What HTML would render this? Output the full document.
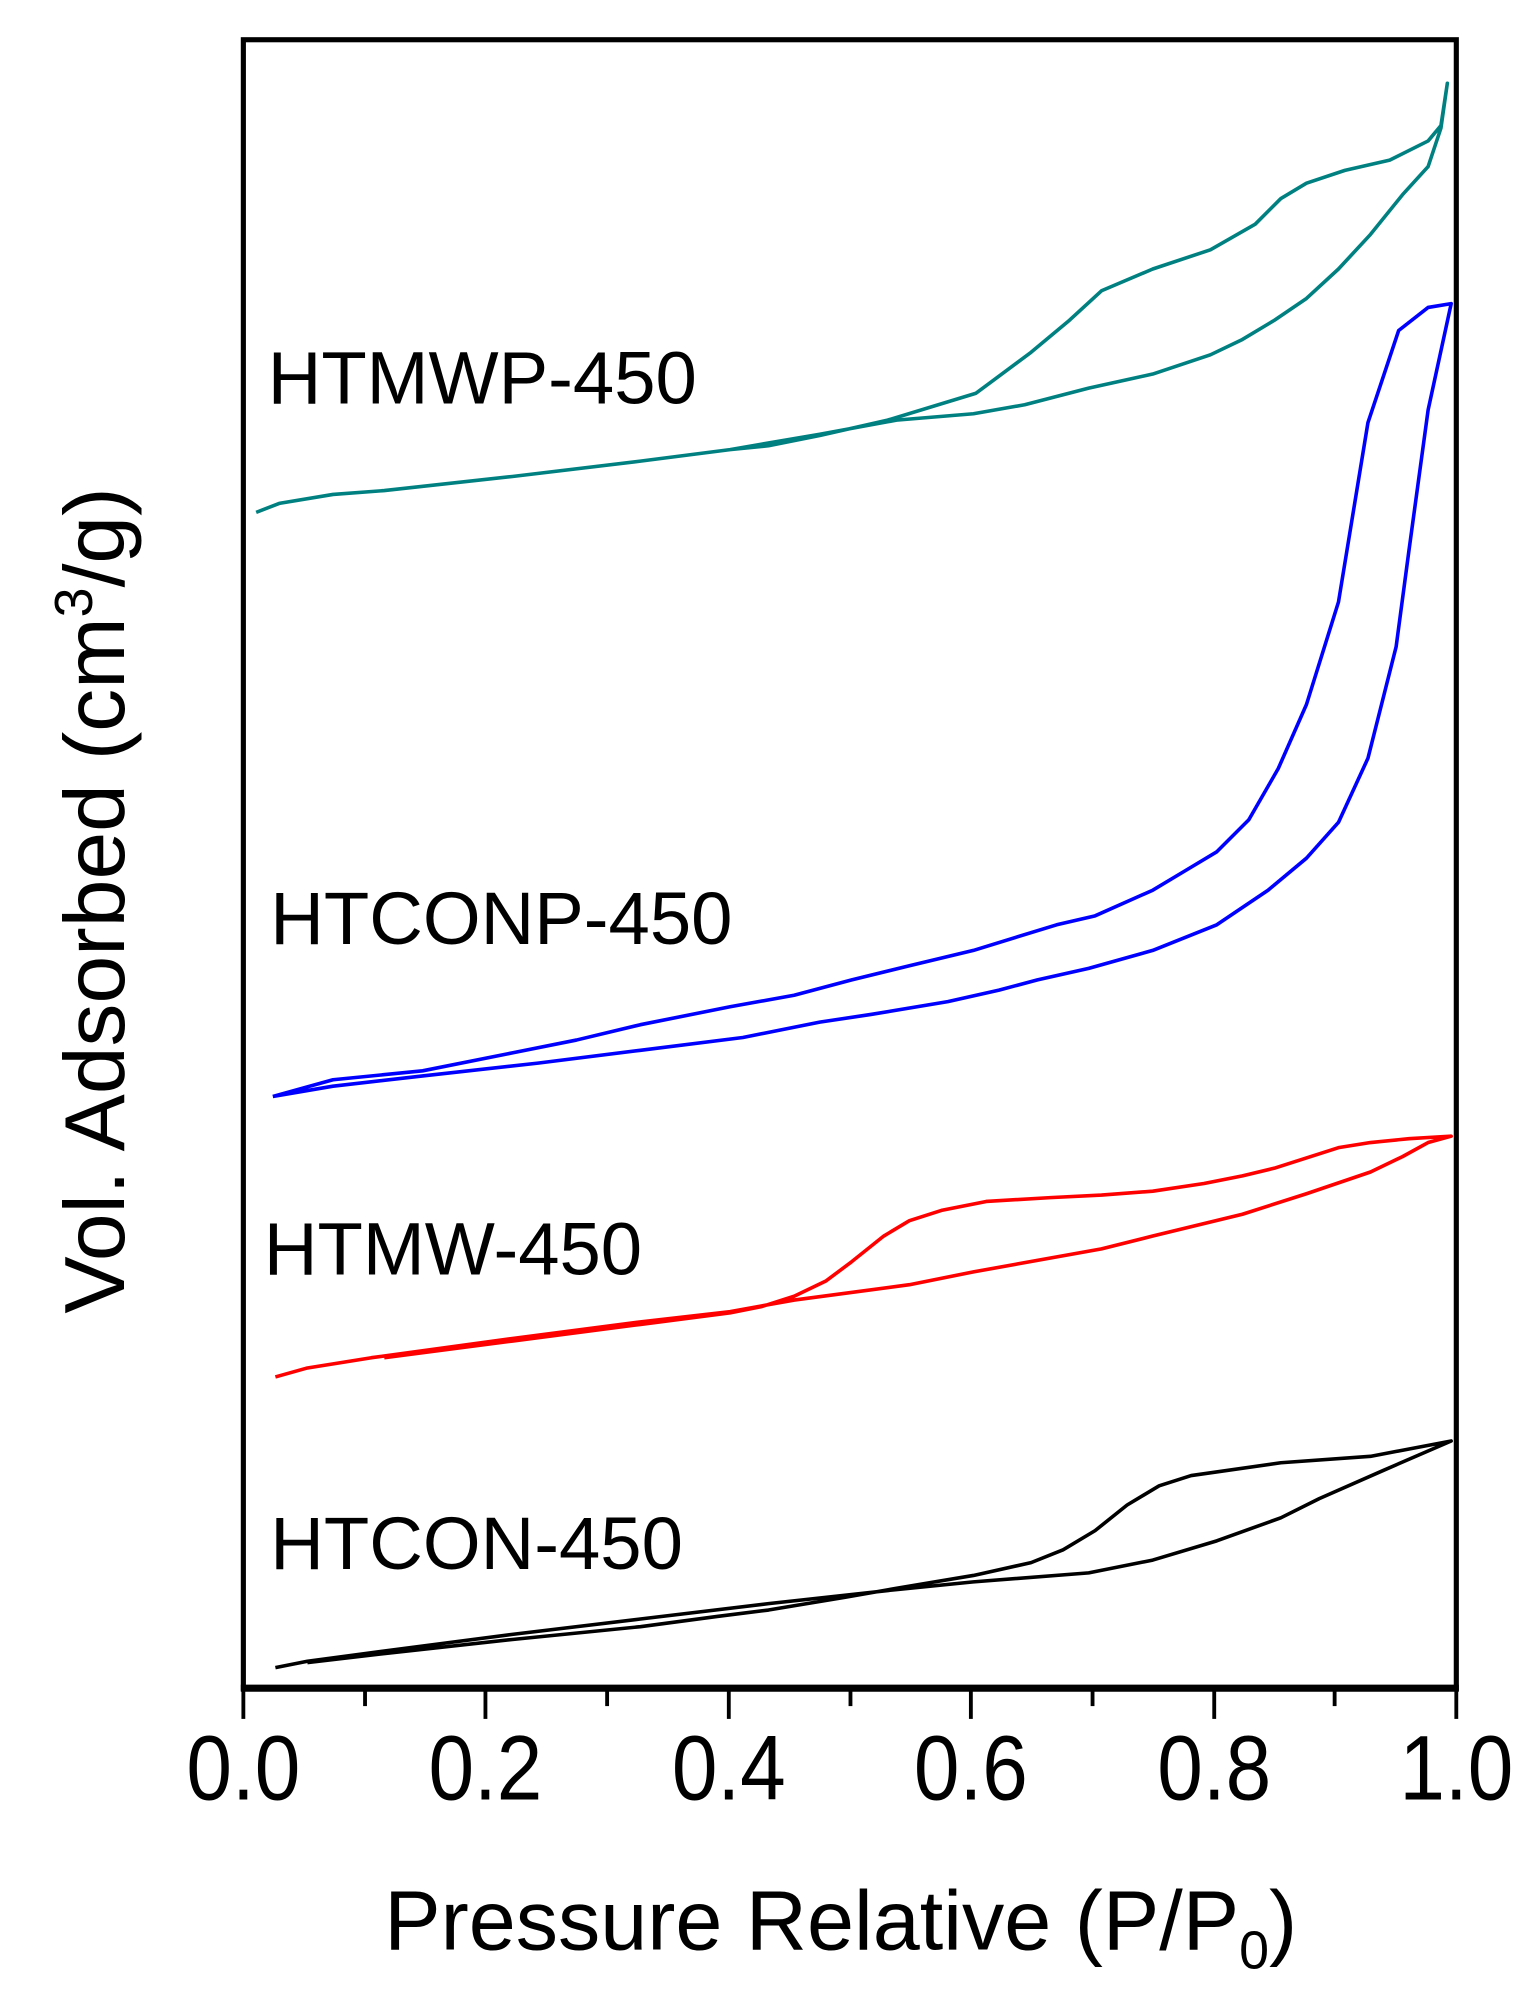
<!DOCTYPE html>
<html><head><meta charset="utf-8"><style>html,body{margin:0;padding:0;background:#fff}svg{display:block}</style></head>
<body>
<svg width="1537" height="2002" viewBox="0 0 1200 1563" xmlns="http://www.w3.org/2000/svg" font-family="Liberation Sans, Arial, sans-serif">
<rect width="1200" height="1563" fill="#fff"/>
<g fill="none" stroke-linejoin="round" stroke-width="2.8">
<polyline stroke="#008080" points="200,400 218,393 260,386 300,383 400,372 500,360 570,351 640,339 700,328 760,323 800,316 850,303 900,292 945,277 970,265 995,250 1020,233 1045,210 1070,183 1095,152 1115,130 1125,100 1130,65 1125,98 1115,110 1085,125 1050,133 1020,143 1000,155 980,175 945,195 900,210 860,227 835,250 805,275 762,307 693,328 640,340 600,348 570,351"/>
<polyline stroke="#0000ff" points="213,856 260,848 330,840 420,830 500,820 580,810 640,798 680,792 740,782 780,773 810,765 850,756 900,742 950,722 990,695 1020,670 1045,642 1068,592 1090,505 1100,430 1115,320 1133,237 1115,240 1092,258 1068,330 1045,470 1020,550 998,600 975,640 950,665 925,680 900,695 855,715 825,722 760,742 710,754 665,765 620,777 570,786 500,800 450,812 400,822 330,836 260,843 213,856"/>
<polyline stroke="#ff0000" points="215,1075 240,1068 290,1060 400,1045 500,1032 570,1024 620,1015 710,1003 760,993 860,975 900,965 970,948 1020,932 1070,915 1095,903 1115,892 1133,887 1100,889 1070,892 1045,896 1020,904 995,912 970,918 940,924 900,930 860,933 820,935 770,938 735,945 710,953 690,965 665,985 645,1000 620,1012 595,1020 570,1025 500,1034 400,1047 300,1060"/>
<polyline stroke="#000000" points="215,1302 240,1297 300,1289 400,1276 500,1264 600,1252 700,1241 760,1235 850,1228 900,1218 950,1203 1000,1185 1030,1170 1080,1148 1133,1125 1070,1137 1000,1142 930,1152 905,1160 880,1175 855,1195 830,1210 805,1220 760,1230 700,1240 660,1247 600,1257 560,1262 500,1270 400,1280 300,1291 240,1298"/>
</g>
<rect x="190" y="31" width="947" height="1287" fill="none" stroke="#000" stroke-width="4"/>
<line x1="188" y1="1318" x2="1139" y2="1318" stroke="#000" stroke-width="5.5"/>
<g stroke="#000" stroke-width="3">
<line x1="190" y1="1318" x2="190" y2="1342"/><line x1="285" y1="1318" x2="285" y2="1332"/>
<line x1="379" y1="1318" x2="379" y2="1342"/><line x1="474" y1="1318" x2="474" y2="1332"/>
<line x1="569" y1="1318" x2="569" y2="1342"/><line x1="664" y1="1318" x2="664" y2="1332"/>
<line x1="758" y1="1318" x2="758" y2="1342"/><line x1="853" y1="1318" x2="853" y2="1332"/>
<line x1="948" y1="1318" x2="948" y2="1342"/><line x1="1042" y1="1318" x2="1042" y2="1332"/>
<line x1="1137" y1="1318" x2="1137" y2="1342"/>
</g>
<g font-size="64" text-anchor="middle" fill="#000" transform="translate(0,1405) scale(1,1.12)">
<text x="190" y="0">0.0</text><text x="379" y="0">0.2</text><text x="569" y="0">0.4</text>
<text x="758" y="0">0.6</text><text x="948" y="0">0.8</text><text x="1137" y="0">1.0</text>
</g>
<text x="300" y="1522" font-size="66" fill="#000">Pressure Relative (P/P<tspan font-size="42" dy="15">0</tspan><tspan dy="-15">)</tspan></text>
<text transform="translate(97,703) rotate(-90)" text-anchor="middle" font-size="67" fill="#000">Vol. Adsorbed (cm<tspan font-size="42" dy="-25">3</tspan><tspan dy="25">/g)</tspan></text>
<g font-size="58" fill="#000">
<text x="209" y="315">HTMWP-450</text>
<text x="211" y="737">HTCONP-450</text>
<text x="206" y="995">HTMW-450</text>
<text x="211" y="1225">HTCON-450</text>
</g>
</svg>
</body></html>
